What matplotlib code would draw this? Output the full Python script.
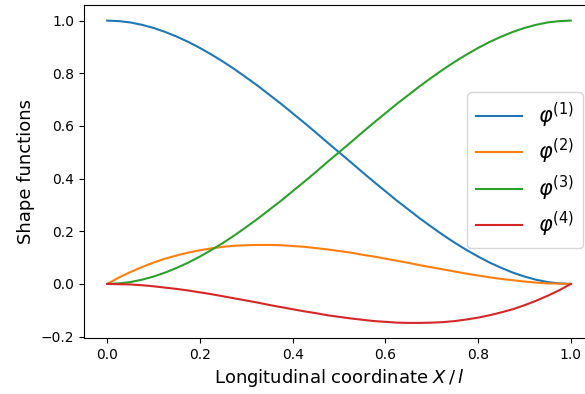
import matplotlib
matplotlib.use('Agg')
import matplotlib.pyplot as plt

# Sampled positions along the element (X / l)
x = [0.000, 0.025, 0.050, 0.075, 0.100, 0.125, 0.150, 0.175, 0.200, 0.225,
     0.250, 0.275, 0.300, 0.325, 0.350, 0.375, 0.400, 0.425, 0.450, 0.475,
     0.500, 0.525, 0.550, 0.575, 0.600, 0.625, 0.650, 0.675, 0.700, 0.725,
     0.750, 0.775, 0.800, 0.825, 0.850, 0.875, 0.900, 0.925, 0.950, 0.975, 1.000]

# Shape function values
phi1 = [1.000, 0.998, 0.993, 0.984, 0.972, 0.957, 0.939, 0.919, 0.896, 0.871,
        0.844, 0.815, 0.784, 0.752, 0.718, 0.684, 0.648, 0.612, 0.575, 0.537,
        0.500, 0.463, 0.425, 0.388, 0.352, 0.316, 0.282, 0.248, 0.216, 0.185,
        0.156, 0.129, 0.104, 0.081, 0.061, 0.043, 0.028, 0.016, 0.007, 0.002, 0.000]
phi2 = [0.000, 0.024, 0.045, 0.064, 0.081, 0.096, 0.108, 0.119, 0.128, 0.135,
        0.141, 0.145, 0.147, 0.148, 0.148, 0.147, 0.144, 0.141, 0.136, 0.131,
        0.125, 0.119, 0.111, 0.104, 0.096, 0.088, 0.080, 0.071, 0.063, 0.055,
        0.047, 0.039, 0.032, 0.025, 0.019, 0.014, 0.009, 0.005, 0.002, 0.001, 0.000]
phi3 = [0.000, 0.002, 0.007, 0.016, 0.028, 0.043, 0.061, 0.081, 0.104, 0.129,
        0.156, 0.185, 0.216, 0.248, 0.282, 0.316, 0.352, 0.388, 0.425, 0.463,
        0.500, 0.537, 0.575, 0.612, 0.648, 0.684, 0.718, 0.752, 0.784, 0.815,
        0.844, 0.871, 0.896, 0.919, 0.939, 0.957, 0.972, 0.984, 0.993, 0.998, 1.000]
phi4 = [0.000, -0.001, -0.002, -0.005, -0.009, -0.014, -0.019, -0.025, -0.032, -0.039,
        -0.047, -0.055, -0.063, -0.071, -0.080, -0.088, -0.096, -0.104, -0.111, -0.119,
        -0.125, -0.131, -0.136, -0.141, -0.144, -0.147, -0.148, -0.148, -0.147, -0.145,
        -0.141, -0.135, -0.128, -0.119, -0.108, -0.096, -0.081, -0.064, -0.045, -0.024, 0.000]

labels = [r'$\varphi^{(1)}$', r'$\varphi^{(2)}$', r'$\varphi^{(3)}$', r'$\varphi^{(4)}$']

fig = plt.figure(figsize=(5.85, 3.94), dpi=100)
ax = fig.add_axes([0.1436, 0.1421, 0.8718, 0.844])

for series, lab in zip([phi1, phi2, phi3, phi4], labels):
    ax.plot(x, series, label=lab, linewidth=1.5)

ax.set_xlabel(r'Longitudinal coordinate $X\,/\,l$', fontsize=13)
ax.set_ylabel('Shape functions', fontsize=13)
ax.set_xticks([0.0, 0.2, 0.4, 0.6, 0.8, 1.0])
ax.set_yticks([-0.2, 0.0, 0.2, 0.4, 0.6, 0.8, 1.0])
ax.legend(fontsize=15, loc='center right', bbox_to_anchor=(0.978, 0.505),
          borderaxespad=0, labelspacing=0.35, handlelength=2.2)

fig.savefig('out.png', dpi=100)
